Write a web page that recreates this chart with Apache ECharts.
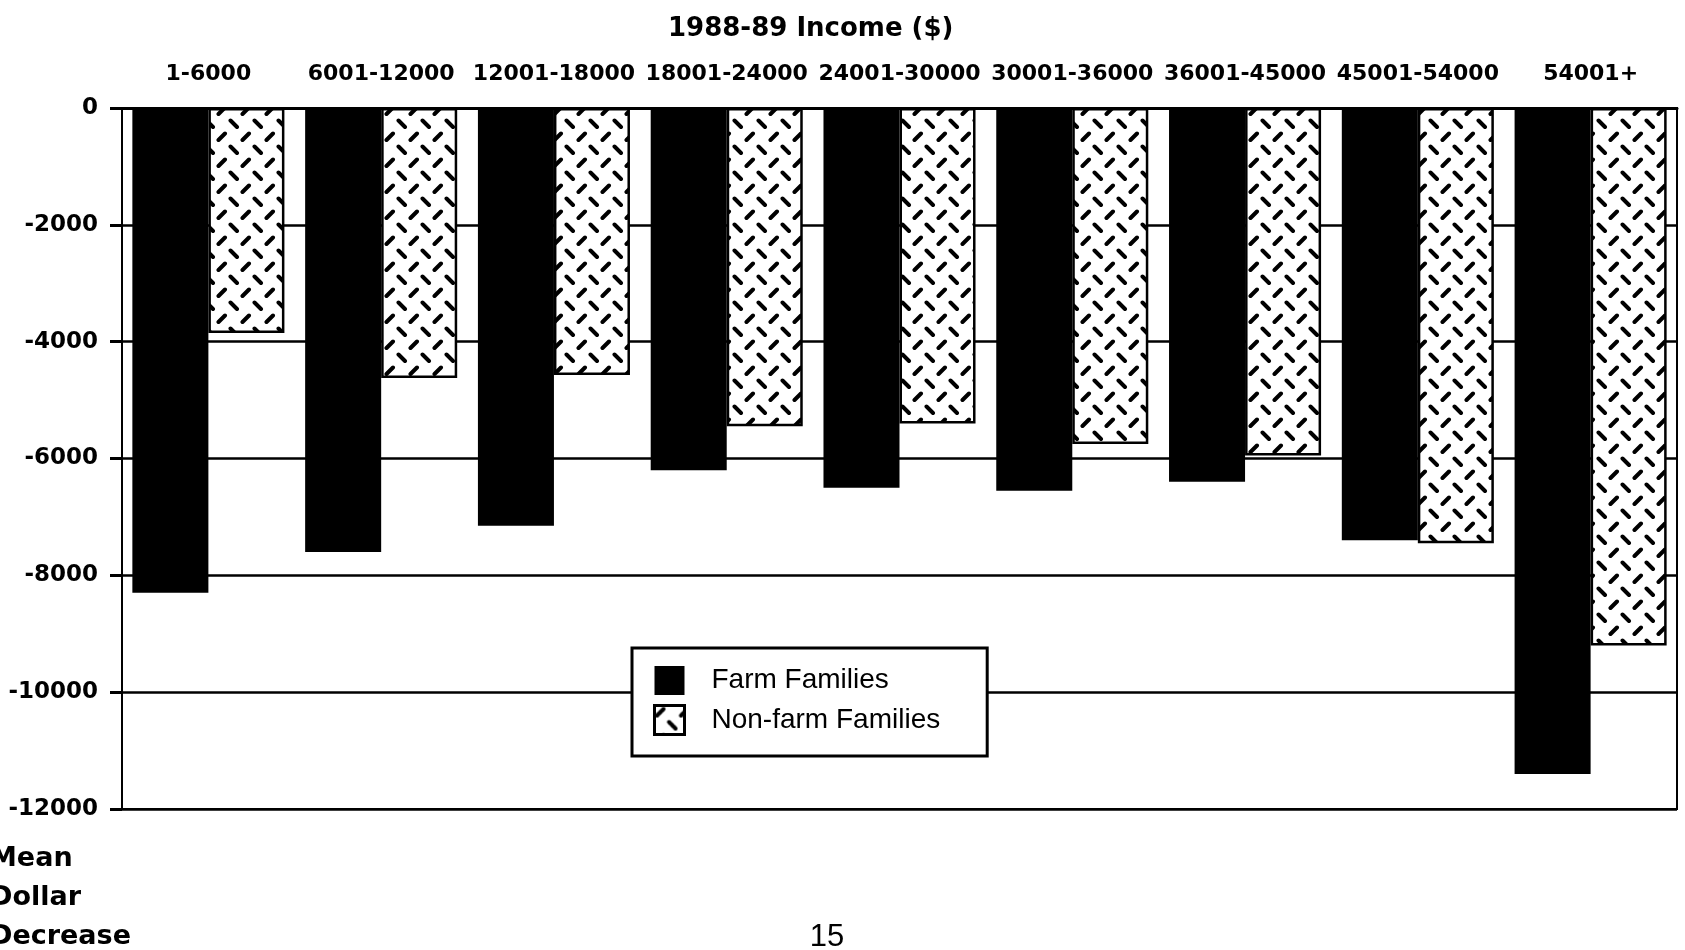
<!DOCTYPE html>
<html><head><meta charset="utf-8">
<script src="https://cdn.jsdelivr.net/npm/echarts@6/dist/echarts.min.js"></script>
<style>html,body{margin:0;padding:0;background:#fff}#c{width:1685px;height:950px}</style>
</head><body><div id="c"></div>
<script>
// ---- data ----
const categories = ['1-6000','6001-12000','12001-18000','18001-24000','24001-30000','30001-36000','36001-45000','45001-54000','54001+'];
const farmFamilies = [-8300,-7600,-7150,-6200,-6500,-6550,-6400,-7400,-11400];
const nonFarmFamilies = [-3850,-4620,-4570,-5450,-5400,-5750,-5950,-7450,-9200];
const seriesNames = ['Farm Families','Non-farm Families'];
const titleText = '1988-89 Income ($)';
const yAxisNameLines = ['Mean','Dollar','Decrease'];
const pageNumber = '15';

function makePattern(){
  const c = document.createElement('canvas');
  c.width = 24; c.height = 26;
  const g = c.getContext('2d');
  g.fillStyle = '#fff'; g.fillRect(0,0,24,26);
  g.strokeStyle = '#000'; g.lineWidth = 4; g.lineCap = 'round';
  g.beginPath();
  g.moveTo(2.5,10); g.lineTo(9,3.5);
  g.moveTo(14.5,16.5); g.lineTo(21,23);
  g.stroke();
  return c;
}
const pattern = makePattern();

const chart = echarts.init(document.getElementById('c'), null, {renderer:'canvas'});
const boldFont = 'DejaVu Sans';
chart.setOption({
  animation:false,
  backgroundColor:'#fff',
  title:{text:titleText,left:668,top:16,padding:0,
    textStyle:{fontFamily:boldFont,fontWeight:'bold',fontSize:26,color:'#000'}},
  grid:{left:122,right:8,top:108,bottom:141,show:true,borderColor:'#000',borderWidth:2,backgroundColor:'transparent'},
  legend:{orient:'vertical',left:632,top:648,itemWidth:30,itemHeight:29,itemGap:9,icon:'rect',
    padding:[18,47,20,21],backgroundColor:'#fff',borderColor:'#000',borderWidth:3,
    selectedMode:false,
    textStyle:{fontFamily:'Liberation Sans',fontSize:28,color:'#000',padding:[0,0,0,22]},
    data:[{name:seriesNames[0]},{name:seriesNames[1],itemStyle:{borderColor:'#000',borderWidth:3}}]},
  xAxis:[
    {type:'category',position:'top',data:categories,
     axisLine:{lineStyle:{color:'#000',width:3}},
     axisTick:{alignWithLabel:true,length:9,lineStyle:{color:'#000',width:2}},
     axisLabel:{interval:0,margin:23,fontFamily:boldFont,fontWeight:'bold',fontSize:22,color:'#000'},
     splitLine:{show:false}},
    {type:'category',position:'bottom',offset:-701,data:categories,
     axisLine:{show:false},
     axisTick:{inside:true,length:5,lineStyle:{color:'#000',width:2}},
     axisLabel:{show:false},splitLine:{show:false}}
  ],
  yAxis:{type:'value',min:-12000,max:0,interval:2000,
    axisLine:{show:true,lineStyle:{color:'#000',width:2}},
    axisTick:{show:true,length:12,lineStyle:{color:'#000',width:3}},
    axisLabel:{margin:24,formatter:v=>String(v),fontFamily:boldFont,fontWeight:'bold',fontSize:23,color:'#000'},
    splitLine:{lineStyle:{color:'#000',width:2.5}}},
  series:[
    {name:seriesNames[0],type:'bar',data:farmFamilies,barGap:'0%',barCategoryGap:'12%',
     itemStyle:{color:'#000'}},
    {name:seriesNames[1],type:'bar',data:nonFarmFamilies,
     itemStyle:{color:{image:pattern,repeat:'repeat'},borderColor:'#000',borderWidth:2.5}}
  ],
  graphic:[
    {type:'text',x:-10,y:839,style:{text:yAxisNameLines.join('\n'),font:'bold 27px "DejaVu Sans"',lineHeight:39,fill:'#000',verticalAlign:'top'}},
    {type:'text',x:827,y:922,style:{text:pageNumber,font:'31px "Liberation Sans"',fill:'#000',align:'center',verticalAlign:'top'}}
  ]
});
</script></body></html>
